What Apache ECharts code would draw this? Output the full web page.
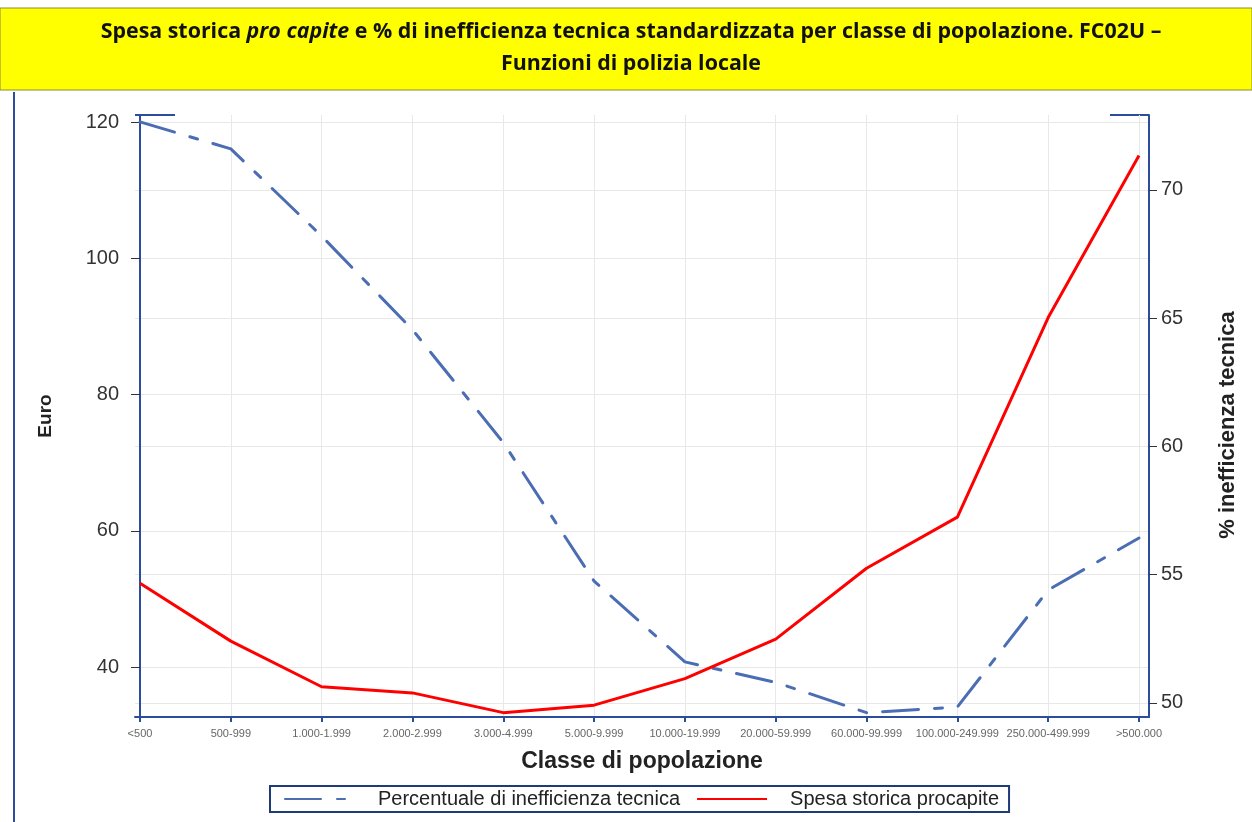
<!DOCTYPE html>
<html>
<head>
<meta charset="utf-8">
<script src="https://cdn.jsdelivr.net/npm/echarts@6/dist/echarts.min.js"></script>
<style>
html,body{margin:0;padding:0;background:#fff;}
#chart{width:1252px;height:822px;}
</style>
</head>
<body>
<div id="chart"></div>
<script>
// Data
const categories = ['<500','500-999','1.000-1.999','2.000-2.999','3.000-4.999','5.000-9.999','10.000-19.999','20.000-59.999','60.000-99.999','100.000-249.999','250.000-499.999','>500.000'];
const spesaStorica = [52.3, 43.8, 37.1, 36.2, 33.3, 34.4, 38.3, 44.1, 54.5, 62.0, 91.3, 115.1];
const percInefficienza = [72.65, 71.6, 68.2, 64.55, 60.15, 54.75, 51.6, 50.8, 49.62, 49.84, 54.4, 56.43];
const euroTicks = [40, 60, 80, 100, 120];
const percTicks = [50, 55, 60, 65, 70];
const catTicks = categories.map((c, i) => i);

const AXIS_BLUE = '#2b4d9c';
const LINE_BLUE = '#4a6db3';

const chart = echarts.init(document.getElementById('chart'));
const option = {
  animation: false,
  backgroundColor: '#fff',
  graphic: [
    { type: 'rect', shape: { x: 0, y: 8, width: 1252, height: 82 }, style: { fill: '#ffff00', stroke: '#8c8a3c', lineWidth: 1 }, z: 0 },
    { type: 'line', shape: { x1: 14, y1: 92, x2: 14, y2: 822 }, style: { stroke: AXIS_BLUE, lineWidth: 2 } },
    { type: 'line', shape: { x1: 135, y1: 115, x2: 175, y2: 115 }, style: { stroke: AXIS_BLUE, lineWidth: 2 } },
    { type: 'line', shape: { x1: 1110, y1: 115, x2: 1149, y2: 115 }, style: { stroke: AXIS_BLUE, lineWidth: 2 } }
  ],
  title: {
    text: '{b|Spesa storica }{i|pro capite}{b| e % di inefficienza tecnica standardizzata per classe di popolazione. FC02U –}\n{b|Funzioni di polizia locale}',
    left: 626,
    top: 11,
    textAlign: 'center',
    textStyle: {
      align: 'center',
      rich: {
        b: { fontFamily: 'Open Sans', fontWeight: 'bold', fontSize: 21.4, color: '#111', lineHeight: 32, align: 'center' },
        i: { fontFamily: 'Open Sans', fontWeight: 'bold', fontStyle: 'italic', fontSize: 21.4, color: '#111', lineHeight: 32, align: 'center' }
      }
    },
    z: 5
  },
  legend: {
    bottom: 10,
    left: 270,
    data: ['Percentuale di inefficienza tecnica', 'Spesa storica procapite'],
    borderColor: '#1f3a7a',
    borderWidth: 2,
    padding: [3, 10, 3, 14],
    itemGap: 16,
    itemWidth: 70,
    itemHeight: 14,
    itemStyle: { opacity: 0 },
    textStyle: { fontFamily: 'Liberation Sans', fontSize: 20, color: '#222', padding: [0, 0, 0, 18] }
  },
  grid: { left: 135, right: 103, top: 115, bottom: 105, containLabel: false },
  xAxis: {
    type: 'value',
    min: -0.055,
    max: 11.11,
    name: 'Classe di popolazione',
    nameLocation: 'middle',
    nameGap: 33,
    nameTextStyle: { fontFamily: 'Liberation Sans', fontWeight: 'bold', fontSize: 23, color: '#222', verticalAlign: 'top' },
    axisLine: { show: true, lineStyle: { color: AXIS_BLUE, width: 2 } },
    axisTick: { show: true, customValues: catTicks, length: 5, lineStyle: { color: AXIS_BLUE, width: 2 } },
    axisLabel: {
      customValues: catTicks,
      formatter: v => categories[Math.round(v)] || '',
      fontFamily: 'Liberation Sans', fontSize: 11, color: '#666', margin: 11
    },
    splitLine: { show: true, lineStyle: { color: '#e8e8e8', width: 1 } }
  },
  yAxis: [
    {
      type: 'value',
      min: 32.66,
      max: 121.03,
      name: 'Euro',
      nameLocation: 'middle',
      nameGap: 80,
      nameRotate: 90,
      nameTextStyle: { fontFamily: 'Liberation Sans', fontWeight: 'bold', fontSize: 19, color: '#222' },
      axisLine: { show: true, lineStyle: { color: AXIS_BLUE, width: 2 } },
      axisTick: { show: true, customValues: euroTicks, length: 9, lineStyle: { color: '#333', width: 1 } },
      axisLabel: { customValues: euroTicks, fontFamily: 'Liberation Sans', fontSize: 20, color: '#333', margin: 16 },
      splitLine: { show: true, lineStyle: { color: '#e8e8e8', width: 1 } }
    },
    {
      type: 'value',
      min: 49.45,
      max: 72.92,
      name: '% inefficienza tecnica',
      nameLocation: 'middle',
      nameGap: 68,
      nameRotate: 90,
      nameTextStyle: { fontFamily: 'Liberation Sans', fontWeight: 'bold', fontSize: 22, color: '#222', padding: [0, 18, 0, 0] },
      axisLine: { show: true, lineStyle: { color: AXIS_BLUE, width: 2 } },
      axisTick: { show: true, customValues: percTicks, length: 8, lineStyle: { color: '#333', width: 1 } },
      axisLabel: { customValues: percTicks, fontFamily: 'Liberation Sans', fontSize: 20, color: '#333', margin: 12 },
      splitLine: { show: true, lineStyle: { color: '#e8e8e8', width: 1 } }
    }
  ],
  series: [
    {
      name: 'Percentuale di inefficienza tecnica',
      type: 'line',
      yAxisIndex: 1,
      data: percInefficienza.map((v, i) => [i, v]),
      showSymbol: false,
      symbol: 'none',
      lineStyle: { color: LINE_BLUE, width: 3, type: [36, 16, 8, 16], cap: 'round' },
      itemStyle: { color: LINE_BLUE },
      z: 3
    },
    {
      name: 'Spesa storica procapite',
      type: 'line',
      yAxisIndex: 0,
      data: spesaStorica.map((v, i) => [i, v]),
      showSymbol: false,
      symbol: 'none',
      lineStyle: { color: '#ff0000', width: 3 },
      itemStyle: { color: '#ff0000' },
      z: 4
    }
  ]
};
chart.setOption(option);
</script>
</body>
</html>
